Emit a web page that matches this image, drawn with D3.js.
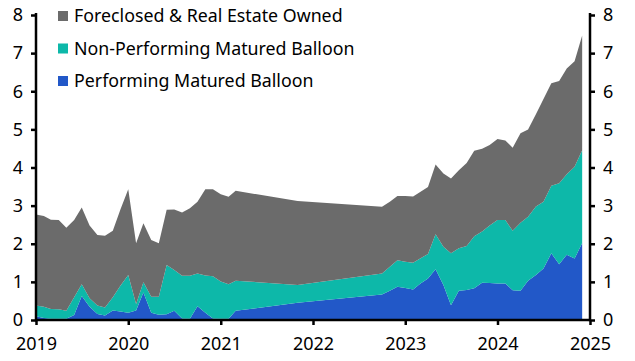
<!DOCTYPE html>
<html>
<head>
<meta charset="utf-8">
<script src="https://cdn.jsdelivr.net/npm/d3@7"></script>
<style>
body{margin:0;background:#fff;}
svg text{font-family:"Noto Sans",sans-serif;fill:#000;}
</style>
</head>
<body>
<div id="chart"></div>
<script>
// month of each observation (gaps in 2021-22 are in the source too)
var months = ["2019-01","2019-02","2019-03","2019-04","2019-05","2019-06","2019-07","2019-08","2019-09","2019-10","2019-11","2019-12",
"2020-01","2020-02","2020-03","2020-04","2020-05","2020-06","2020-07","2020-08","2020-09","2020-10","2020-11","2020-12",
"2021-01","2021-02","2021-03","2021-11","2022-10","2022-11","2022-12",
"2023-01","2023-02","2023-03","2023-04","2023-05","2023-06","2023-07","2023-08","2023-09","2023-10","2023-11","2023-12",
"2024-01","2024-02","2024-03","2024-04","2024-05","2024-06","2024-07","2024-08","2024-09","2024-10","2024-11","2024-12"];

var performing = [0.10,0.05,0.03,0.03,0.03,0.13,0.63,0.35,0.16,0.12,0.25,0.22,
0.19,0.25,0.72,0.19,0.14,0.15,0.24,0.04,0.03,0.36,0.19,0.04,
0.03,0.03,0.24,0.45,0.67,0.77,0.87,
0.84,0.80,0.95,1.09,1.33,0.92,0.39,0.77,0.79,0.83,0.98,0.97,
0.96,0.96,0.78,0.77,1.03,1.18,1.35,1.75,1.46,1.71,1.61,2.02];

var nonPerforming = [0.28,0.30,0.26,0.25,0.21,0.47,0.31,0.22,0.22,0.21,0.35,0.68,
0.99,0.17,0.27,0.42,0.47,1.29,1.07,1.12,1.13,0.86,0.98,1.11,
0.98,0.91,0.79,0.47,0.55,0.63,0.70,
0.69,0.70,0.66,0.64,0.92,1.00,1.36,1.11,1.15,1.37,1.34,1.51,
1.66,1.66,1.56,1.78,1.68,1.80,1.75,1.77,2.13,2.11,2.41,2.43];

var foreclosed = [2.39,2.38,2.34,2.34,2.18,2.02,2.01,1.91,1.85,1.88,1.74,2.00,
2.25,1.59,1.55,1.49,1.40,1.45,1.59,1.66,1.77,1.88,2.26,2.28,
2.29,2.29,2.36,2.20,1.75,1.70,1.68,
1.72,1.74,1.75,1.76,1.83,1.92,1.96,2.05,2.18,2.24,2.17,2.11,
2.13,2.09,2.18,2.35,2.29,2.42,2.70,2.69,2.68,2.78,2.77,3.01];

var seriesNames = ["Performing Matured Balloon","Non-Performing Matured Balloon","Foreclosed & Real Estate Owned"];
var seriesColors = ["#2258c8","#0db8a9","#6b6b6b"];
var yTicks = [0,1,2,3,4,5,6,7,8];
var xTicks = ["2019","2020","2021","2022","2023","2024","2025"];

var W = 635, H = 361;
var padL = 36, padR = 590, padT = 15, padB = 320;

var parse = d3.timeParse("%Y-%m");
var rows = months.map(function(m,i){
  return {date: parse(m), p: performing[i], n: nonPerforming[i], f: foreclosed[i]};
});

var x = d3.scaleTime()
  .domain([new Date(2019,0,1), new Date(2025,0,1)])
  .range([padL, padR]);
var y = d3.scaleLinear().domain([0,8]).range([padB, padT]);

var svg = d3.select("#chart").append("svg")
  .attr("width", W).attr("height", H);

var stack = d3.stack().keys(["p","n","f"]);
var layers = stack(rows);

var area = d3.area()
  .x(d => x(d.data.date))
  .y0(d => y(d[0]))
  .y1(d => y(d[1]));

svg.selectAll("path.layer")
  .data(layers)
  .enter()
  .append("path")
  .attr("class","layer")
  .attr("d", area)
  .attr("fill", (d,i) => seriesColors[i]);

// axes
var yLeft = d3.axisLeft(y).tickValues(yTicks).tickSize(5).tickPadding(8).tickFormat(d3.format("d"));
var yRight = d3.axisRight(y).tickValues(yTicks).tickSize(5).tickPadding(8).tickFormat(d3.format("d"));
var xAxis = d3.axisBottom(x)
  .tickValues(xTicks.map(t => new Date(+t,0,1)))
  .tickSize(5).tickPadding(12)
  .tickFormat(d3.timeFormat("%Y"));

function style(g){
  g.select(".domain").remove();
  g.selectAll(".tick line").attr("stroke","#000").attr("stroke-width",2.5);
  g.selectAll(".tick text").style("font-size","18px").attr("fill","#000");
}

svg.append("g").attr("transform","translate("+padL+",0)").call(yLeft).call(style);
svg.append("g").attr("transform","translate("+padR+",0)").call(yRight).call(style);
svg.append("g").attr("transform","translate(0,"+padB+")").call(xAxis).call(style);

// axis lines
svg.append("line").attr("x1",padL).attr("x2",padL).attr("y1",padT-2).attr("y2",padB+1.25)
  .attr("stroke","#000").attr("stroke-width",2.5);
svg.append("line").attr("x1",padR).attr("x2",padR).attr("y1",padT-2).attr("y2",padB+1.25)
  .attr("stroke","#000").attr("stroke-width",2.5);
svg.append("line").attr("x1",padL).attr("x2",padR).attr("y1",padB).attr("y2",padB)
  .attr("stroke","#000").attr("stroke-width",2.5);

// legend, top entry is the top layer
var legend = svg.append("g");
var legItems = [2,1,0];
legItems.forEach(function(k,i){
  var yy = 16 + i*32.5;
  legend.append("rect").attr("x",58).attr("y",yy-5).attr("width",10).attr("height",10)
    .attr("fill",seriesColors[k]);
  legend.append("text").attr("x",74).attr("y",yy).attr("dy","0.35em")
    .style("font-size","17.8px").text(seriesNames[k]);
});
</script>
</body>
</html>
